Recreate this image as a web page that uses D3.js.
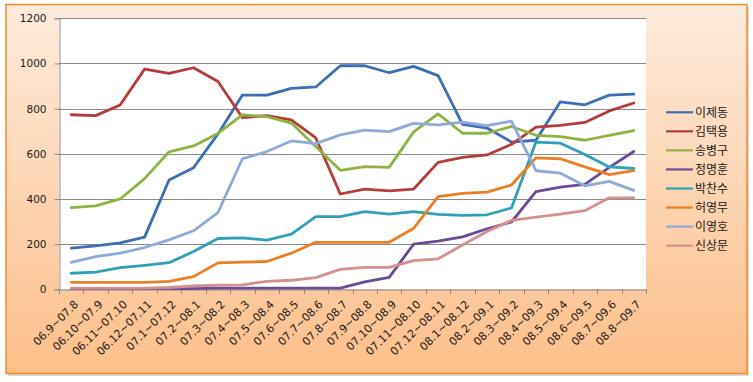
<!DOCTYPE html>
<html><head><meta charset="utf-8">
<script src="https://cdn.jsdelivr.net/npm/d3@7"></script>
<style>html,body{margin:0;padding:0;background:#fff}svg{display:block}</style>
</head><body>
<svg id="c" width="753" height="382"></svg>
<script>
const categories = ["06.9~07.8","06.10~07.9","06.11~07.10","06.12~07.11","07.1~07.12","07.2~08.1","07.3~08.2","07.4~08.3","07.5~08.4","07.6~08.5","07.7~08.6","07.8~08.7","07.9~08.8","07.10~08.9","07.11~08.10","07.12~08.11","08.1~08.12","08.2~09.1","08.3~09.2","08.4~09.3","08.5~09.4","08.6~09.5","08.7~09.6","08.8~09.7"];
const seriesNames = ["이제동","김택용","송병구","정명훈","박찬수","허영무","이영호","신상문"];
const leeJeDong   = [182,192,206,231,484,538,688,860,860,890,896,990,990,959,987,946,730,714,652,660,830,817,860,864];
const kimTaekYong = [773,769,816,975,956,981,920,760,769,750,670,422,444,436,444,562,584,595,642,718,726,739,790,825];
const songByungGu = [362,369,400,490,609,635,690,772,765,736,632,527,543,540,697,777,691,691,721,682,676,660,682,703];
const jungMyungHoon = [3,3,3,3,3,3,5,5,5,5,5,5,33,53,200,213,232,268,298,432,452,465,540,610];
const parkChanSoo = [71,76,96,106,118,167,225,228,218,244,322,322,344,333,344,332,327,330,360,652,647,597,542,535];
const heoYoungMoo = [31,31,31,31,35,56,117,120,123,160,208,208,208,208,270,410,425,430,462,582,578,542,508,525];
const leeYoungHo  = [119,145,160,185,219,259,340,578,610,657,645,684,705,698,735,728,740,725,745,525,514,458,478,438];
const shinSangMoon = [5,5,5,5,8,15,18,20,35,40,52,88,97,97,127,135,196,256,305,320,333,348,405,405];
const seriesValues = [leeJeDong,kimTaekYong,songByungGu,jungMyungHoon,parkChanSoo,heoYoungMoo,leeYoungHo,shinSangMoon];
const colors = ["#3D6FB3","#B53C3A","#8DB443","#6B4D96","#31A1B9","#EB7F25","#8FAAD9","#D4908E"];
const yTicks = [0,200,400,600,800,1000,1200];

const svg = d3.select("#c");
const defs = svg.append("defs");
const g1 = defs.append("linearGradient").attr("id","bg").attr("x1",0).attr("y1",0).attr("x2",0).attr("y2",1);
g1.append("stop").attr("offset","0%").attr("stop-color","#FEEBDC");
g1.append("stop").attr("offset","100%").attr("stop-color","#FCBF8A");

// shadow + frame
svg.append("rect").attr("x",8).attr("y",7).attr("width",741).attr("height",369).attr("fill","#d8d8d8");
svg.append("rect").attr("x",6).attr("y",4.5).attr("width",741).attr("height",369)
  .attr("fill","url(#bg)").attr("stroke","#F58A2A").attr("stroke-width",1.5);

const L = 59, R = 646, T = 18.3, B = 289.3;
const x = d3.scaleBand().domain(categories).range([L,R]);
const y = d3.scaleLinear().domain([0,1200]).range([B,T]);

svg.append("rect").attr("x",L).attr("y",T).attr("width",R-L).attr("height",B-T).attr("fill","#fff");

// gridlines
svg.append("g").selectAll("line").data(yTicks.filter(d=>d>0)).join("line")
  .attr("x1",L).attr("x2",R).attr("y1",d=>Math.round(y(d))+0.5).attr("y2",d=>Math.round(y(d))+0.5)
  .attr("stroke","#8A8A8A").attr("stroke-width",1);

// y axis
const yAxis = svg.append("g").attr("transform",`translate(${L+0.5},0)`)
  .call(d3.axisLeft(y).tickValues(yTicks).tickSize(5).tickPadding(8).tickFormat(d3.format("d")));
yAxis.select(".domain").attr("stroke","#8A8A8A");
yAxis.selectAll(".tick line").attr("stroke","#8A8A8A");
yAxis.selectAll("text").attr("font-family","DejaVu Sans").attr("font-size","10.5px").attr("fill","#1a1a1a");

// x axis
const xAxis = svg.append("g").attr("transform",`translate(0,${Math.round(B)+0.5})`)
  .call(d3.axisBottom(x).tickSize(0).tickFormat(""));
xAxis.select(".domain").attr("stroke","#8A8A8A");
svg.append("g").selectAll("line").data(d3.range(categories.length+1)).join("line")
  .attr("x1",i=>Math.round(L+i*x.step())+0.5).attr("x2",i=>Math.round(L+i*x.step())+0.5)
  .attr("y1",Math.round(B)).attr("y2",Math.round(B)+5).attr("stroke","#8A8A8A");
svg.append("g").selectAll("text").data(categories).join("text")
  .attr("transform",d=>`translate(${x(d)+x.bandwidth()/2+5},${B+13}) rotate(-45)`)
  .attr("text-anchor","end").attr("dy","0.35em")
  .attr("font-family","DejaVu Sans").attr("font-size","11px").attr("fill","#1a1a1a")
  .text(d=>d);

// lines
const line = d3.line().x((d,i)=>x(categories[i])+x.bandwidth()/2).y(d=>y(d)).curve(d3.curveLinear);
svg.append("g").selectAll("path").data(seriesValues).join("path")
  .attr("d",line).attr("fill","none").attr("stroke",(d,i)=>colors[i])
  .attr("stroke-width",2.8).attr("stroke-linejoin","round").attr("stroke-linecap","round");

// legend
const lg = svg.append("g").selectAll("g").data(seriesNames).join("g")
  .attr("transform",(d,i)=>`translate(666,${112.3+i*19.05})`);
lg.append("line").attr("x1",0).attr("x2",27).attr("y1",0).attr("y2",0)
  .attr("stroke",(d,i)=>colors[i]).attr("stroke-width",2.2);
lg.append("text").attr("x",29).attr("dy","0.36em")
  .attr("font-family","Noto Sans CJK KR").attr("font-size","12px").attr("fill","#1a1a1a")
  .text(d=>d);
</script>
</body></html>
